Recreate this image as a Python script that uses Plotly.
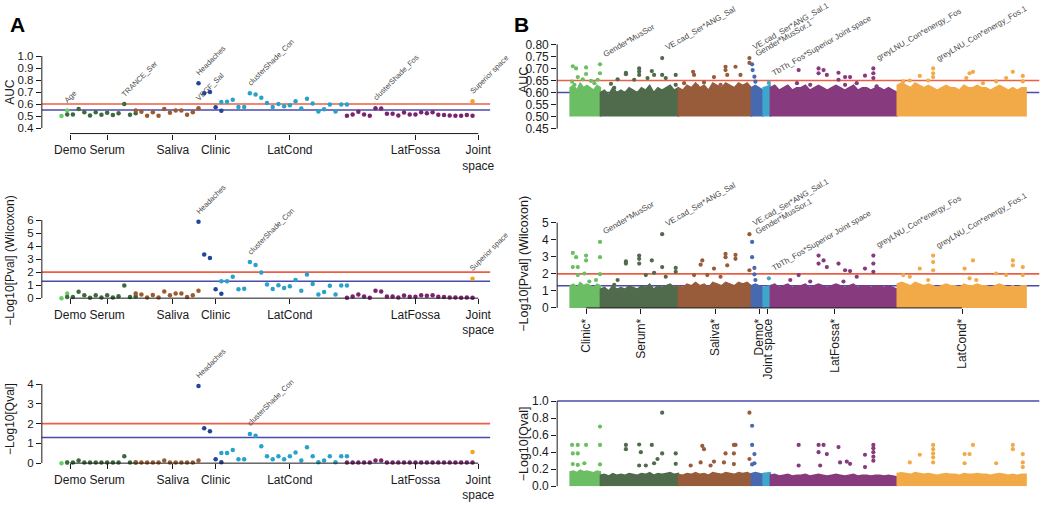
import numpy as np
import plotly.graph_objects as go

W, H = 1050, 505
FONT = "Liberation Sans, Arial, Helvetica, sans-serif"
RED = "#ec5f45"
BLUE = "#4a4aac"
TXT = "#1a1a1a"
LBL = "#4a4a4a"

# ---------------- Panel A data ----------------
catsA = ["Demo", "Serum", "Saliva", "Clinic", "LatCond", "LatFossa", "Joint space"]
colorsA = ["#66d066", "#3d6a3d", "#9c5a2e", "#22459c", "#27a2cc", "#7a2470", "#f5a31e"]
startA = [0, 1, 13, 24, 28, 50, 72]
tickposA = [1.5, 8.0, 19.5, 27.0, 40.0, 62.0, 73.0]
ticktextA = ["Demo", "Serum", "Saliva", "Clinic", "LatCond", "LatFossa", "Joint<br>space"]

aucA = [
    [0.50, 0.546],
    [0.513, 0.513, 0.559, 0.532, 0.505, 0.532, 0.510, 0.527, 0.508, 0.524, 0.600, 0.510, 0.524],
    [0.546, 0.535, 0.502, 0.532, 0.502, 0.559, 0.527, 0.546, 0.546, 0.510, 0.532, 0.565],
    [0.774, 0.690, 0.700, 0.573, 0.543],
    [0.616, 0.619, 0.635, 0.576, 0.576, 0.690, 0.679, 0.652, 0.608, 0.576, 0.600, 0.581,
     0.589, 0.624, 0.562, 0.643, 0.605, 0.538, 0.557, 0.597, 0.538, 0.597, 0.597],
    [0.502, 0.513, 0.535, 0.513, 0.502, 0.565, 0.562, 0.519, 0.519, 0.505, 0.529, 0.513,
     0.513, 0.532, 0.524, 0.532, 0.510, 0.508, 0.505, 0.502, 0.502, 0.508, 0.502],
    [0.624],
]
pvalA = [
    [0.0, 0.35],
    [0.08, 0.08, 0.50, 0.22, 0.03, 0.22, 0.05, 0.22, 0.05, 0.15, 0.98, 0.08, 0.15],
    [0.35, 0.28, 0.05, 0.25, 0.05, 0.52, 0.22, 0.35, 0.35, 0.08, 0.22, 0.57],
    [5.87, 3.35, 3.08, 0.68, 0.33],
    [1.30, 1.30, 1.65, 0.68, 0.72, 2.78, 2.55, 1.98, 1.05, 0.70, 1.00, 0.78,
     0.92, 1.40, 0.57, 1.82, 1.08, 0.28, 0.48, 0.95, 0.28, 0.98, 0.98],
    [0.03, 0.12, 0.28, 0.12, 0.03, 0.57, 0.52, 0.12, 0.12, 0.05, 0.20, 0.10,
     0.10, 0.22, 0.18, 0.22, 0.10, 0.08, 0.05, 0.05, 0.03, 0.05, 0.03],
    [1.50],
]
qvalA = [
    [0.0, 0.03],
    [0.03, 0.03, 0.13, 0.03, 0.03, 0.03, 0.03, 0.03, 0.03, 0.03, 0.35, 0.03, 0.03],
    [0.03, 0.03, 0.03, 0.03, 0.03, 0.13, 0.03, 0.03, 0.03, 0.03, 0.03, 0.13],
    [3.90, 1.76, 1.61, 0.20, 0.05],
    [0.51, 0.51, 0.66, 0.20, 0.20, 1.48, 1.38, 0.86, 0.35, 0.20, 0.35, 0.20,
     0.35, 0.54, 0.13, 0.80, 0.35, 0.05, 0.13, 0.35, 0.05, 0.35, 0.35],
    [0.03, 0.03, 0.03, 0.03, 0.03, 0.13, 0.13, 0.03, 0.03, 0.03, 0.03, 0.03,
     0.03, 0.03, 0.03, 0.03, 0.03, 0.03, 0.03, 0.03, 0.03, 0.03, 0.03],
    [0.56],
]
# labelled features in panel A: (text, index, value)
labA_auc = [("Age", 1, 0.546), ("TRANCE_Ser", 11, 0.600), ("Headaches", 24, 0.774),
            ("VEGF_Sal", 24, 0.565), ("clusterShade_Con", 33, 0.690),
            ("clusterShade_Fos", 55, 0.565), ("Superior space", 72, 0.624)]
labA_pval = [("Headaches", 24, 5.87), ("clusterShade_Con", 33, 2.78), ("Superior space", 72, 1.50)]
labA_qval = [("Headaches", 24, 3.90), ("clusterShade_Con", 33, 1.48)]

# ---------------- Panel B data ----------------
catsB = ["Clinic*", "Serum*", "Saliva*", "Demo*", "Joint space", "LatFossa*", "LatCond*"]
colorsB = ["#6cbe64", "#506b4c", "#985c3a", "#4868b0", "#3ea6cc", "#873a7d", "#f2aa48"]
startB = [0, 304, 1087, 1820, 1937, 2010, 3284]
endB = [304, 1087, 1820, 1937, 2010, 3284, 4577]
tickposB = [160, 710, 1460, 1900, 1984, 2657, 3934]

# upper edge of the dense bulk of points in each group
aucB_env = [
    [0.62, 0.63, 0.61, 0.64, 0.62, 0.63, 0.62, 0.61, 0.63, 0.62],
    [0.60, 0.61, 0.59, 0.62, 0.60, 0.61, 0.60, 0.62, 0.61, 0.60, 0.62, 0.61, 0.63, 0.60, 0.62, 0.61, 0.62, 0.63, 0.61, 0.62],
    [0.62, 0.61, 0.63, 0.62, 0.64, 0.62, 0.63, 0.61, 0.64, 0.63, 0.62, 0.64, 0.63, 0.62, 0.64, 0.63, 0.64, 0.62],
    [0.62, 0.63, 0.62, 0.61],
    [0.62, 0.63],
    [0.62, 0.63, 0.61, 0.62, 0.63, 0.61, 0.62, 0.62, 0.63, 0.61, 0.62, 0.63, 0.62, 0.61, 0.62,
     0.63, 0.62, 0.61, 0.62, 0.63, 0.61, 0.62, 0.62, 0.61, 0.62, 0.62, 0.61, 0.62, 0.61, 0.60],
    [0.63, 0.64, 0.63, 0.62, 0.64, 0.63, 0.62, 0.63, 0.62, 0.61, 0.62, 0.63, 0.62, 0.62, 0.61,
     0.63, 0.62, 0.62, 0.63, 0.62, 0.62, 0.61, 0.62, 0.63, 0.62, 0.61, 0.62, 0.61, 0.62, 0.62],
]
pvalB_env = [
    [1.3, 1.4, 1.2, 1.5, 1.3, 1.4, 1.3, 1.2, 1.4, 1.3],
    [1.1, 1.2, 1.0, 1.3, 1.1, 1.2, 1.1, 1.3, 1.2, 1.1, 1.3, 1.2, 1.4, 1.1, 1.3, 1.2, 1.3, 1.4, 1.2, 1.3],
    [1.3, 1.2, 1.4, 1.3, 1.5, 1.3, 1.4, 1.2, 1.5, 1.4, 1.3, 1.5, 1.4, 1.3, 1.5, 1.4, 1.5, 1.3],
    [1.3, 1.4, 1.3, 1.2],
    [1.2, 1.3],
    [1.3, 1.4, 1.2, 1.3, 1.4, 1.2, 1.3, 1.3, 1.4, 1.2, 1.3, 1.4, 1.3, 1.2, 1.3,
     1.4, 1.3, 1.2, 1.3, 1.4, 1.2, 1.3, 1.3, 1.2, 1.3, 1.3, 1.2, 1.3, 1.2, 1.1],
    [1.4, 1.5, 1.4, 1.3, 1.5, 1.4, 1.3, 1.4, 1.3, 1.2, 1.3, 1.4, 1.3, 1.3, 1.2,
     1.4, 1.3, 1.3, 1.4, 1.3, 1.3, 1.2, 1.3, 1.4, 1.3, 1.2, 1.3, 1.2, 1.3, 1.3],
]
qvalB_env = [
    [0.17, 0.18, 0.16, 0.19, 0.17, 0.18, 0.17, 0.16, 0.18, 0.17],
    [0.13, 0.14, 0.12, 0.15, 0.13, 0.14, 0.13, 0.15, 0.14, 0.13, 0.15, 0.14, 0.16, 0.13, 0.15, 0.14, 0.15, 0.16, 0.14, 0.15],
    [0.14, 0.13, 0.15, 0.14, 0.16, 0.14, 0.15, 0.13, 0.16, 0.15, 0.14, 0.16, 0.15, 0.14, 0.16, 0.15, 0.16, 0.14],
    [0.15, 0.16, 0.15, 0.14],
    [0.15, 0.16],
    [0.13, 0.14, 0.12, 0.13, 0.14, 0.12, 0.13, 0.13, 0.14, 0.12, 0.13, 0.14, 0.13, 0.12, 0.13,
     0.14, 0.13, 0.12, 0.13, 0.14, 0.12, 0.13, 0.13, 0.12, 0.13, 0.13, 0.12, 0.13, 0.12, 0.11],
    [0.15, 0.16, 0.15, 0.14, 0.16, 0.15, 0.14, 0.15, 0.14, 0.13, 0.14, 0.15, 0.14, 0.14, 0.13,
     0.15, 0.14, 0.14, 0.15, 0.14, 0.14, 0.13, 0.14, 0.15, 0.14, 0.13, 0.14, 0.13, 0.14, 0.14],
]
aucB_base, pvalB_base, qvalB_base = 0.50, 0.0, 0.0

# individual points standing out above the bulk (feature index, value)
aucB_idx = [27, 60, 160, 160, 300, 300, 77, 127, 244, 277, 44, 20, 210,
            560, 560, 693, 693, 693, 820, 924, 924, 477, 410, 777, 843, 960, 1060, 1060, 643, 443,
            1234, 1244, 1344, 1444, 1560, 1560, 1577, 1660, 1710, 1800, 1800, 1144, 1510, 1277,
            1827, 1832, 1850, 1860, 1995,
            2294, 2494, 2494, 2544, 2577, 2694, 2694, 2760, 2810, 2760, 2960, 3044, 3044, 3044, 2277, 2410, 2877, 3077,
            3510, 3644, 3644, 3644, 3594, 3410, 3344, 4010, 4044, 3977, 4144, 4277, 4377, 4444, 4544, 4544]
aucB_val = [0.709, 0.700, 0.704, 0.677, 0.717, 0.680, 0.664, 0.655, 0.639, 0.653, 0.632, 0.645, 0.648,
            0.682, 0.676, 0.700, 0.687, 0.673, 0.689, 0.743, 0.673, 0.655, 0.636, 0.660, 0.673, 0.660, 0.673, 0.632, 0.653, 0.619,
            0.686, 0.673, 0.642, 0.664, 0.707, 0.693, 0.673, 0.707, 0.673, 0.743, 0.723, 0.639, 0.632, 0.626,
            0.717, 0.693, 0.666, 0.645, 0.640,
            0.693, 0.700, 0.680, 0.693, 0.673, 0.682, 0.653, 0.664, 0.664, 0.632, 0.670, 0.700, 0.680, 0.660, 0.639, 0.632, 0.639, 0.626,
            0.669, 0.700, 0.680, 0.664, 0.650, 0.650, 0.646, 0.680, 0.686, 0.660, 0.639, 0.646, 0.660, 0.686, 0.669, 0.646]
pvalB_idx = [27, 60, 160, 160, 27, 77, 77, 143, 300, 300, 300, 193, 260,
             560, 560, 693, 693, 693, 820, 924, 924, 1060, 1060, 843, 760, 960, 477, 443,
             1310, 1327, 1560, 1560, 1660, 1660, 1577, 1800, 1800, 1444, 1377, 1244, 1510,
             1827, 1827, 1850, 1850, 1860, 1995,
             2494, 2494, 2544, 2577, 2694, 2760, 2810, 2744, 2960, 3044, 3044, 3044, 2294, 2210, 2410, 2877,
             3644, 3644, 3644, 3510, 3594, 3344, 3410, 3960, 4044, 4010, 4077, 4277, 4377, 4444, 4444, 4544, 4544]
pvalB_val = [3.23, 2.98, 3.07, 2.79, 2.40, 2.40, 1.93, 2.02, 3.87, 2.98, 1.98, 1.55, 1.64,
             2.73, 2.60, 3.07, 2.88, 2.60, 2.79, 4.33, 2.40, 2.35, 2.12, 2.06, 1.93, 1.83, 1.64, 1.35,
             2.54, 2.79, 3.17, 2.98, 3.11, 2.88, 2.50, 4.33, 2.21, 2.31, 1.93, 1.93, 1.83,
             3.87, 2.98, 2.35, 1.97, 1.64, 1.74,
             3.07, 2.60, 2.79, 2.40, 2.60, 2.21, 2.16, 1.55, 2.31, 3.07, 2.60, 2.12, 1.93, 1.64, 1.55, 1.83,
             3.07, 2.69, 2.21, 2.31, 1.64, 1.93, 1.83, 2.31, 2.79, 1.74, 1.64, 2.02, 1.93, 2.79, 2.50, 2.40, 1.93]
qvalB_idx = [20, 77, 160, 27, 77, 300, 300, 300, 27, 77, 143,
             560, 560, 693, 710, 820, 924, 924, 1060, 877, 843, 693, 760, 1060,
             1327, 1344, 1560, 1644, 1660, 1644, 1800, 1800, 1444, 1310, 1210, 1410, 1544, 1644,
             1827, 1827, 1850, 1850, 1827,
             2294, 2494, 2544, 2494, 2577, 2694, 2710, 2777, 2960, 3044, 3044, 3044, 3044, 3044, 2294, 2510, 2810, 2960,
             3644, 3644, 3644, 3644, 3644, 3510, 4044, 3960, 4010, 3960, 4277, 4444, 4444, 4544, 4544, 4544, 3410]
qvalB_val = [0.485, 0.485, 0.485, 0.385, 0.385, 0.700, 0.485, 0.256, 0.260, 0.250, 0.270,
             0.485, 0.435, 0.490, 0.400, 0.485, 0.863, 0.385, 0.385, 0.320, 0.270, 0.244, 0.244, 0.263,
             0.473, 0.435, 0.385, 0.485, 0.485, 0.385, 0.863, 0.320, 0.290, 0.280, 0.244, 0.244, 0.280, 0.260,
             0.710, 0.485, 0.378, 0.270, 0.256,
             0.485, 0.485, 0.485, 0.400, 0.378, 0.460, 0.280, 0.290, 0.370, 0.485, 0.447, 0.400, 0.347, 0.300, 0.244, 0.244, 0.263, 0.225,
             0.485, 0.435, 0.385, 0.340, 0.280, 0.370, 0.485, 0.378, 0.378, 0.270, 0.270, 0.485, 0.435, 0.378, 0.280, 0.225, 0.280]
labB_auc = [("Gender*MusSor", 300, 0.717), ("VE.cad_Ser*ANG_Sal", 924, 0.743),
            ("VE.cad_Ser*ANG_Sal.1", 1800, 0.743), ("Gender*MusSor.1", 1827, 0.717),
            ("TbTh_Fos*Superior Joint space", 1995, 0.640),
            ("greyLNU_Con*energy_Fos", 3044, 0.700), ("greyLNU_Con*energy_Fos.1", 3644, 0.700)]
labB_pval = [("Gender*MusSor", 300, 3.87), ("VE.cad_Ser*ANG_Sal", 924, 4.33),
             ("VE.cad_Ser*ANG_Sal.1", 1800, 4.33), ("Gender*MusSor.1", 1827, 3.87),
             ("TbTh_Fos*Superior Joint space", 1995, 1.74),
             ("greyLNU_Con*energy_Fos", 3044, 3.07), ("greyLNU_Con*energy_Fos.1", 3644, 3.07)]

# ---------------- helpers ----------------
def dom_x(a, b):
    return [a / W, b / W]

def dom_y(top, bottom):
    return [1 - bottom / H, 1 - top / H]

fig = go.Figure()
shapes = []
annotations = []
layout = {}

def hline(xa, ya, yv, color, w=1.6):
    shapes.append(dict(type="line", xref=f"{xa} domain", x0=0, x1=1, yref=ya, y0=yv, y1=yv,
                       line=dict(color=color, width=w), layer="below"))

def vaxis_line(xa, ya, y0, y1):
    shapes.append(dict(type="line", xref=f"{xa} domain", x0=0, x1=0, yref=ya, y0=y0, y1=y1,
                       line=dict(color=TXT, width=1)))

def haxis_line(xa, ya, x0, x1):
    shapes.append(dict(type="line", xref=xa, x0=x0, x1=x1, yref=f"{ya} domain", y0=0, y1=0,
                       line=dict(color=TXT, width=1)))

def fmt(v, nd):
    return f"{v:.{nd}f}"

# ---------------- Panel A ----------------
rowsA = [
    dict(vals=aucA, dom=(45, 131.7), rng=[0.3536, 1.0594], yt=[0.4, 0.5, 0.6, 0.7, 0.8, 0.9, 1.0], nd=1,
         lines=(0.60, 0.55), title="AUC", ty=89, labels=labA_auc),
    dict(vals=pvalA, dom=(215, 300.3), rng=[0, 6.4], yt=[0, 1, 2, 3, 4, 5, 6], nd=0,
         lines=(2.0, 1.3), title="\u2212Log10[Pval] (Wilcoxon)", ty=262, labels=labA_pval),
    dict(vals=qvalA, dom=(380, 469.3), rng=[0, 4.41], yt=[0, 1, 2, 3, 4], nd=0,
         lines=(2.0, 1.3), title="\u2212Log10[Qval]", ty=424, labels=labA_qval),
]
for r, row in enumerate(rowsA):
    n = r + 1
    xa, ya = f"x{n if n > 1 else ''}", f"y{n if n > 1 else ''}"
    layout[f"xaxis{n if n > 1 else ''}"] = dict(
        domain=dom_x(42, 492), range=[-3.44, 75.08], anchor=ya, showgrid=False, zeroline=False,
        showline=False, tickmode="array", tickvals=tickposA, ticktext=ticktextA, ticks="outside",
        ticklen=5, tickwidth=1, tickcolor=TXT, tickfont=dict(size=12, color=TXT, family=FONT))
    layout[f"yaxis{n if n > 1 else ''}"] = dict(
        domain=dom_y(*row["dom"]), range=row["rng"], anchor=xa, showgrid=False, zeroline=False,
        showline=False, tickmode="array", tickvals=row["yt"], ticktext=[fmt(v, row["nd"]) for v in row["yt"]],
        ticks="outside", ticklen=5, tickwidth=1, tickcolor=TXT, tickfont=dict(size=11.5, color=TXT, family=FONT))
    hline(xa, ya, row["lines"][0], RED)
    hline(xa, ya, row["lines"][1], BLUE)
    vaxis_line(xa, ya, row["yt"][0], row["yt"][-1])
    haxis_line(xa, ya, tickposA[0], tickposA[-1])
    for g, vals in enumerate(row["vals"]):
        xs = [startA[g] + i for i in range(len(vals))]
        fig.add_trace(go.Scatter(x=xs, y=vals, mode="markers", xaxis=xa, yaxis=ya, cliponaxis=False,
                                 marker=dict(color=colorsA[g], size=4.5, line=dict(width=0)),
                                 showlegend=False, hoverinfo="skip"))
    for (txt, k, v) in row["labels"]:
        annotations.append(dict(text=txt, x=k, y=v, xref=xa, yref=ya, showarrow=False, textangle=-45,
                                xanchor="left", yanchor="bottom", xshift=-7, yshift=3,
                                font=dict(size=7.5, color=LBL, family=FONT)))
    annotations.append(dict(text=row["title"], x=10 / W, y=1 - row["ty"] / H, xref="paper", yref="paper",
                            showarrow=False, textangle=-90, xanchor="center", yanchor="middle",
                            font=dict(size=12, color=TXT, family=FONT)))

# ---------------- Panel B ----------------
def group_color(i):
    for g in range(len(startB)):
        if startB[g] <= i < endB[g] or (g == len(startB) - 1 and i >= startB[g]):
            return colorsB[g]
    return colorsB[-1]

rowsB = [
    dict(env=aucB_env, base=aucB_base, idx=aucB_idx, val=aucB_val, dom=(33.9, 127.9), rng=[0.445, 0.826],
         yt=[0.45, 0.50, 0.55, 0.60, 0.65, 0.70, 0.75, 0.80], nd=2, lines=(0.65, 0.60),
         title="AUC", ty=77, labels=labB_auc, xaxis=False),
    dict(env=pvalB_env, base=pvalB_base, idx=pvalB_idx, val=pvalB_val, dom=(216.9, 310.3), rng=[0, 5.35],
         yt=[0, 1, 2, 3, 4, 5], nd=0, lines=(2.0, 1.3),
         title="\u2212Log10[Pval] (Wilcoxon)", ty=265, labels=labB_pval, xaxis=True),
    dict(env=qvalB_env, base=qvalB_base, idx=qvalB_idx, val=qvalB_val, dom=(403.9, 493), rng=[0, 1.02],
         yt=[0.0, 0.2, 0.4, 0.6, 0.8, 1.0], nd=1, lines=(2.0, 1.0),
         title="\u2212Log10[Qval]", ty=449, labels=[], xaxis=False),
]
for r, row in enumerate(rowsB):
    n = r + 4
    xa, ya = f"x{n}", f"y{n}"
    layout[f"xaxis{n}"] = dict(
        domain=dom_x(559.3, 1043.3), range=[-130, 4710], anchor=ya, showgrid=False, zeroline=False,
        showline=False, tickmode="array", tickvals=tickposB if row["xaxis"] else [],
        ticktext=catsB if row["xaxis"] else [], ticks="outside" if row["xaxis"] else "",
        ticklen=5, tickwidth=1, tickcolor=TXT, tickangle=-90,
        showticklabels=row["xaxis"], tickfont=dict(size=12, color=TXT, family=FONT))
    layout[f"yaxis{n}"] = dict(
        domain=dom_y(*row["dom"]), range=row["rng"], anchor=xa, showgrid=False, zeroline=False,
        showline=False, tickmode="array", tickvals=row["yt"], ticktext=[fmt(v, row["nd"]) for v in row["yt"]],
        ticks="outside", ticklen=5, tickwidth=1, tickcolor=TXT, tickfont=dict(size=12, color=TXT, family=FONT))
    if row["lines"][0] <= row["rng"][1]:
        hline(xa, ya, row["lines"][0], RED)
    hline(xa, ya, row["lines"][1], BLUE)
    vaxis_line(xa, ya, row["yt"][0], row["yt"][-1])
    if row["xaxis"]:
        haxis_line(xa, ya, tickposB[0], tickposB[-1])
    # dense bulk of each group
    for g, env in enumerate(row["env"]):
        xs = list(np.linspace(startB[g], endB[g], len(env)))
        px_ = [startB[g]] + xs + [endB[g]]
        py_ = [row["base"]] + env + [row["base"]]
        fig.add_trace(go.Scatter(x=px_, y=py_, mode="lines", fill="toself", fillcolor=colorsB[g],
                                 line=dict(width=1.5, color=colorsB[g]), xaxis=xa, yaxis=ya,
                                 showlegend=False, hoverinfo="skip"))
    # standout points
    fig.add_trace(go.Scatter(x=row["idx"], y=row["val"], mode="markers", xaxis=xa, yaxis=ya, cliponaxis=False,
                             marker=dict(color=[group_color(i) for i in row["idx"]], size=4.2, line=dict(width=0)),
                             showlegend=False, hoverinfo="skip"))
    for (txt, k, v) in row["labels"]:
        annotations.append(dict(text=txt, x=k, y=v, xref=xa, yref=ya, showarrow=False, textangle=-30,
                                xanchor="left", yanchor="bottom", xshift=-1, yshift=3,
                                font=dict(size=8, color=LBL, family=FONT)))
    annotations.append(dict(text=row["title"], x=526 / W, y=1 - row["ty"] / H, xref="paper", yref="paper",
                            showarrow=False, textangle=-90, xanchor="center", yanchor="middle",
                            font=dict(size=12.5, color=TXT, family=FONT)))

# panel letters
annotations.append(dict(text="<b>A</b>", x=8 / W, y=1 - 6 / H, xref="paper", yref="paper", showarrow=False,
                        xanchor="left", yanchor="top", font=dict(size=21, color="#000", family=FONT)))
annotations.append(dict(text="<b>B</b>", x=514 / W, y=1 - 6 / H, xref="paper", yref="paper", showarrow=False,
                        xanchor="left", yanchor="top", font=dict(size=21, color="#000", family=FONT)))

fig.update_layout(width=W, height=H, margin=dict(l=0, r=0, t=0, b=0), paper_bgcolor="white",
                  plot_bgcolor="white", shapes=shapes, annotations=annotations,
                  font=dict(family=FONT, color=TXT), **layout)
fig.write_html("out.html", config={"displayModeBar": False},
               post_script="document.body.style.margin='0px';document.body.style.overflow='hidden';")
